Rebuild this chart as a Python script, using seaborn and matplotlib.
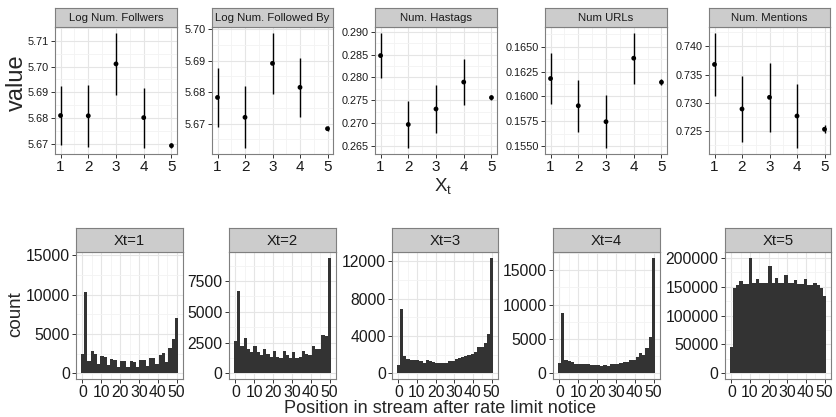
import numpy as np
import pandas as pd
import matplotlib
matplotlib.use("Agg")
import matplotlib.pyplot as plt
import seaborn as sns
from matplotlib.ticker import FixedLocator, FixedFormatter

# ---- top row: mean of each metric per X_t with 95% interval half-widths ----
xt = [1, 2, 3, 4, 5]
metric_names = ["Log Num. Follwers", "Log Num. Followed By", "Num. Hastags",
                "Num URLs", "Num. Mentions"]
followers_mean = [5.6811, 5.6810, 5.7010, 5.6803, 5.6695]
followers_err = [0.0114, 0.0120, 0.0120, 0.0116, 0.0010]
followed_mean = [5.6783, 5.6720, 5.6891, 5.6815, 5.6684]
followed_err = [0.0094, 0.0098, 0.0097, 0.0093, 0.0008]
hashtags_mean = [0.2848, 0.2697, 0.2731, 0.2790, 0.2756]
hashtags_err = [0.0050, 0.0052, 0.0053, 0.0050, 0.0005]
urls_mean = [0.16180, 0.15907, 0.15747, 0.16384, 0.16143]
urls_err = [0.00253, 0.00262, 0.00266, 0.00255, 0.00030]
mentions_mean = [0.73682, 0.72894, 0.73100, 0.72770, 0.72535]
mentions_err = [0.00560, 0.00580, 0.00605, 0.00570, 0.00070]

top_yticks = [[5.67, 5.68, 5.69, 5.70, 5.71],
              [5.67, 5.68, 5.69, 5.70],
              [0.265, 0.270, 0.275, 0.280, 0.285, 0.290],
              [0.1550, 0.1575, 0.1600, 0.1625, 0.1650],
              [0.725, 0.730, 0.735, 0.740]]
top_ydec = [2, 2, 3, 4, 3]

# ---- bottom row: histogram counts (30 bins over positions 0..50) ----
pos_min, pos_max, n_bins = 0, 50, 30
facet_labels = ["Xt=1", "Xt=2", "Xt=3", "Xt=4", "Xt=5"]
counts_xt1 = [2450, 10400, 1600, 2800, 2450, 1200, 2200, 2100, 1050, 1800,
              1650, 850, 1550, 1550, 850, 1550, 1400, 750, 1700, 1650,
              900, 1900, 2000, 1150, 2350, 2550, 1400, 3200, 4350, 7050]
counts_xt2 = [2600, 6700, 2200, 2850, 2000, 1700, 2250, 1700, 1450, 1950,
              1550, 1300, 1800, 1350, 1200, 1850, 1450, 1250, 1700, 1250,
              1300, 1850, 1600, 1450, 2250, 1950, 1950, 3100, 3000, 9400]
counts_xt3 = [900, 6900, 1850, 1550, 1400, 1400, 1450, 1300, 1150, 1400,
              1300, 1200, 1150, 1100, 1100, 1150, 1350, 1300, 1550, 1650,
              1700, 1850, 2000, 2050, 2300, 2800, 2800, 3300, 4200, 12400]
counts_xt4 = [1500, 8700, 1900, 1750, 1600, 1350, 1350, 1350, 1300, 1300,
              1200, 1200, 1150, 1100, 1200, 1050, 1350, 1300, 1400, 1500,
              1600, 1700, 1950, 1900, 2300, 2900, 2700, 3600, 5300, 16800]
counts_xt5 = [45000, 148000, 152000, 160000, 155000, 155000, 200000, 157000, 163000, 157000,
              157000, 157000, 186000, 157000, 165000, 157000, 157000, 170000, 157000, 157000,
              161000, 155000, 155000, 163000, 153000, 153000, 157000, 152000, 148000, 133000]
hist_yticks = [[0, 5000, 10000, 15000],
               [0, 2500, 5000, 7500],
               [0, 4000, 8000, 12000],
               [0, 5000, 10000, 15000],
               [0, 50000, 100000, 150000, 200000]]
hist_xticks = [0, 10, 20, 30, 40, 50]
# first facet's y scale reaches higher than its tallest bar
hist_ymax = [14700, None, None, None, None]

sns.set_style("white")
plt.rcParams['font.family'] = ['Liberation Sans', 'DejaVu Sans']
plt.rcParams['mathtext.fontset'] = 'custom'
plt.rcParams['mathtext.rm'] = 'Liberation Sans'

W, H = 836, 417
fig = plt.figure(figsize=(W / 100, H / 100), dpi=100)

BORDER = '#7F7F7F'
STRIP = '#CCCCCC'
MAJOR = '#E5E5E5'
MINOR = '#F3F3F3'


def px_rect(x0, y0, x1, y1):
    return [x0 / W, 1 - y1 / H, (x1 - x0) / W, (y1 - y0) / H]


def style_panel(ax):
    ax.set_facecolor('white')
    for s in ax.spines.values():
        s.set_color(BORDER)
        s.set_linewidth(0.8)
    ax.grid(True, which='major', color=MAJOR, linewidth=0.8)
    ax.grid(True, which='minor', color=MINOR, linewidth=0.6)
    ax.set_axisbelow(True)
    ax.tick_params(which='major', direction='out', length=3, width=0.7,
                   color='#333333', pad=1.5, labelcolor='#1a1a1a',
                   bottom=True, left=True)
    ax.tick_params(which='minor', length=0)
    ax.set_xlabel('')
    ax.set_ylabel('')


def add_strip(x0, x1, y0, y1, label, size):
    sax = fig.add_axes(px_rect(x0, y0, x1, y1))
    sax.set_facecolor(STRIP)
    sax.set_xticks([])
    sax.set_yticks([])
    for s in sax.spines.values():
        s.set_color(BORDER)
        s.set_linewidth(0.8)
    sax.text(0.5, 0.47, label, ha='center', va='center', fontsize=size,
             color='#1a1a1a', transform=sax.transAxes)


# === top row ===
top_x = [(55, 177), (212, 333), (375, 497), (545, 667), (709, 830)]
top_means = [followers_mean, followed_mean, hashtags_mean, urls_mean, mentions_mean]
top_errs = [followers_err, followed_err, hashtags_err, urls_err, mentions_err]

for i in range(5):
    x0, x1 = top_x[i]
    ax = fig.add_axes(px_rect(x0, 27, x1, 154))
    m = np.array(top_means[i])
    e = np.array(top_errs[i])
    ax.errorbar(xt, m, yerr=e, fmt='none', ecolor='black', elinewidth=1.0, zorder=2)
    sns.scatterplot(x=xt, y=m, ax=ax, color='black', s=12, edgecolor='none', zorder=3)
    lo, hi = (m - e).min(), (m + e).max()
    span = hi - lo
    ax.set_ylim(lo - 0.05 * span, hi + 0.05 * span)
    ax.set_xlim(0.8, 5.2)
    ax.xaxis.set_major_locator(FixedLocator(xt))
    ax.xaxis.set_minor_locator(FixedLocator([1.5, 2.5, 3.5, 4.5]))
    yt = top_yticks[i]
    ax.yaxis.set_major_locator(FixedLocator(yt))
    ax.yaxis.set_minor_locator(FixedLocator([(a + b) / 2 for a, b in zip(yt[:-1], yt[1:])]
                                            + [yt[0] - (yt[1] - yt[0]) / 2, yt[-1] + (yt[1] - yt[0]) / 2]))
    ax.yaxis.set_major_formatter(FixedFormatter([f"{v:.{top_ydec[i]}f}" for v in yt]))
    style_panel(ax)
    ax.tick_params(axis='x', labelsize=11)
    ax.tick_params(axis='y', labelsize=7.8)
    add_strip(x0, x1, 8, 27, metric_names[i], 8.2)

fig.text(17 / W, 1 - 83 / H, 'value', rotation=90, ha='center', va='center', fontsize=17)
fig.text(443 / W, 1 - 191.5 / H, r'$\mathregular{X_t}$', ha='center', va='baseline', fontsize=13.5)

# === bottom row ===
bot_x = [(76, 183), (229, 336), (392, 498), (553, 660), (725, 831)]
all_counts = [counts_xt1, counts_xt2, counts_xt3, counts_xt4, counts_xt5]
bw = (pos_max - pos_min) / (n_bins - 1)
lo_edge, hi_edge = pos_min - bw / 2, pos_max + bw / 2
centers = lo_edge + bw * (np.arange(n_bins) + 0.5)

for i in range(5):
    x0, x1 = bot_x[i]
    ax = fig.add_axes(px_rect(x0, 252, x1, 379))
    c = np.array(all_counts[i])
    df = pd.DataFrame({'pos': centers, 'count': c})
    sns.histplot(data=df, x='pos', weights='count', bins=n_bins,
                 binrange=(lo_edge, hi_edge), ax=ax, color='#333333',
                 alpha=1, edgecolor='none', linewidth=0)
    top = hist_ymax[i] if hist_ymax[i] else c.max()
    ax.set_ylim(-0.05 * top, 1.05 * top)
    xr = hi_edge - lo_edge
    ax.set_xlim(lo_edge - 0.05 * xr, hi_edge + 0.05 * xr)
    ax.xaxis.set_major_locator(FixedLocator(hist_xticks))
    ax.xaxis.set_minor_locator(FixedLocator([5, 15, 25, 35, 45]))
    yt = hist_yticks[i]
    ax.yaxis.set_major_locator(FixedLocator(yt))
    step = yt[1] - yt[0]
    ax.yaxis.set_minor_locator(FixedLocator([v + step / 2 for v in yt]))
    ax.yaxis.set_major_formatter(FixedFormatter([str(v) for v in yt]))
    style_panel(ax)
    ax.tick_params(axis='both', labelsize=11.3)
    add_strip(x0, x1, 228, 252, facet_labels[i], 10.7)

fig.text(16 / W, 1 - 314 / H, 'count', rotation=90, ha='center', va='center', fontsize=13.5)
fig.text(440 / W, 1 - 408.5 / H, 'Position in stream after rate limit notice',
         ha='center', va='center', fontsize=13.1)

fig.savefig('out.png', dpi=100)
